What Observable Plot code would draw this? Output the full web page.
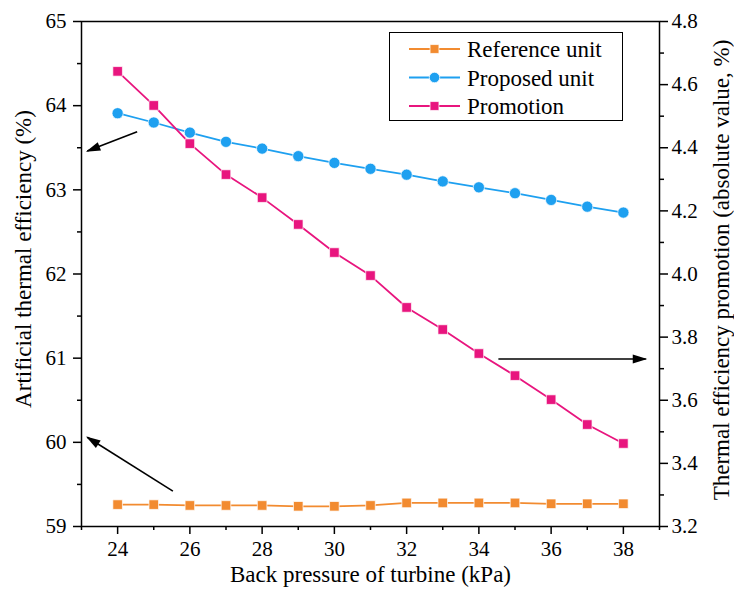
<!DOCTYPE html>
<html><head><meta charset="utf-8">
<script src="https://cdn.jsdelivr.net/npm/d3@7"></script>
<script src="https://cdn.jsdelivr.net/npm/@observablehq/plot@0.6"></script>
<style>
body{margin:0;background:#fff;font-family:"Liberation Serif",serif}
#chart{position:relative;width:734px;height:592px;font-family:"Liberation Serif",serif}
</style>
</head><body><div style="height:0;overflow:hidden;font-family:'Liberation Serif'">&#8203;</div><div id="chart"></div>
<script>
// ---- data ----
const pressure = [24,25,26,27,28,29,30,31,32,33,34,35,36,37,38];
const referenceUnit = [59.26,59.26,59.25,59.25,59.25,59.24,59.24,59.25,59.28,59.28,59.28,59.28,59.27,59.27,59.27];
const proposedUnit = [63.91,63.80,63.68,63.57,63.49,63.40,63.32,63.25,63.18,63.10,63.03,62.96,62.88,62.80,62.73];
const promotion = [4.642,4.534,4.413,4.315,4.242,4.157,4.068,3.995,3.894,3.824,3.748,3.678,3.602,3.523,3.463];
const seriesNames = ["Reference unit","Proposed unit","Promotion"];
const seriesColors = ["#F28B30","#1EA0F0","#E8157E"];
const seriesSymbols = ["square","circle","square"];
const xMajorTicks = [24,26,28,30,32,34,36,38];
const xMinorTicks = [23,25,27,29,31,33,35,37,39];
const leftMajorTicks = [59,60,61,62,63,64,65];
const leftMinorTicks = [59.5,60.5,61.5,62.5,63.5,64.5];
const rightMajorTicks = [3.2,3.4,3.6,3.8,4.0,4.2,4.4,4.6,4.8];
const rightMinorTicks = [3.3,3.5,3.7,3.9,4.1,4.3,4.5,4.7];
const xLabel = "Back pressure of turbine (kPa)";
const leftLabel = "Artificial thermal efficiency (%)";
const rightLabel = "Thermal efficiency promotion (absolute value, %)";
// annotation arrows (data units of x / left axis)
const arrowX1 = [24.54, 25.53, 34.54];
const arrowY1 = [63.69, 59.42, 60.99];
const arrowX2 = [23.16, 23.16, 38.62];
const arrowY2 = [63.46, 60.06, 60.99];

// ---- mapping of right axis onto left scale ----
const leftDomain = [59, 65], rightDomain = [3.2, 4.8];
const toLeft = v => leftDomain[0] + (v - rightDomain[0]) * (leftDomain[1] - leftDomain[0]) / (rightDomain[1] - rightDomain[0]);
const fromLeft = y => rightDomain[0] + (y - leftDomain[0]) * (rightDomain[1] - rightDomain[0]) / (leftDomain[1] - leftDomain[0]);

const rows = pressure.map((p, i) => ({p, ref: referenceUnit[i], prop: proposedUnit[i], promo: toLeft(promotion[i])}));
const arrows = arrowX1.map((x, i) => ({x1: x, y1: arrowY1[i], x2: arrowX2[i], y2: arrowY2[i]}));
const keys = ["ref","prop","promo"];

const FONT = "Liberation Serif";
const FS = 21;   // tick labels
const LS = 23;   // axis titles and legend

function render() {
  const seriesMarks = keys.flatMap((k, i) => [
    Plot.line(rows, {x: "p", y: k, stroke: seriesColors[i], strokeWidth: 1.8}),
    Plot.dot(rows, {x: "p", y: k, symbol: seriesSymbols[i], r: seriesSymbols[i] === "square" ? 5.4 : 5.6,
      fill: seriesColors[i], stroke: "white", strokeWidth: 1, strokeOpacity: 0.7})
  ]);
  const chart = Plot.plot({
    width: 734, height: 592,
    marginLeft: 81, marginRight: 75, marginTop: 21, marginBottom: 66,
    style: {fontFamily: FONT, fontSize: FS + "px"},
    x: {domain: [23, 39]},
    y: {domain: leftDomain},
    marks: [
      Plot.axisX({ticks: xMajorTicks, tickSize: 8, tickPadding: 7, strokeWidth: 1.5, label: null, fontSize: FS, tickFormat: d3.format("d")}),
      Plot.axisX({ticks: xMinorTicks, tickSize: 4, strokeWidth: 1.5, text: null, label: null}),
      Plot.axisY({ticks: leftMajorTicks, anchor: "left", tickSize: 8, tickPadding: 7, strokeWidth: 1.5, label: null, fontSize: FS, tickFormat: d3.format("d")}),
      Plot.axisY({ticks: leftMinorTicks, anchor: "left", tickSize: 4, strokeWidth: 1.5, text: null, label: null}),
      Plot.axisY({ticks: rightMajorTicks.map(toLeft), anchor: "right", tickSize: 8, tickPadding: 4, strokeWidth: 1.5, label: null,
        tickFormat: y => d3.format(".1f")(fromLeft(y)), fontSize: FS}),
      Plot.axisY({ticks: rightMinorTicks.map(toLeft), anchor: "right", tickSize: 4, strokeWidth: 1.5, text: null, label: null}),
      Plot.frame({stroke: "#000", strokeWidth: 1.5}),
      ...seriesMarks,
      Plot.link(arrows, {x1: "x1", y1: "y1", x2: "x2", y2: "y2", stroke: "#000", strokeWidth: 1.6, markerEnd: "arrow"}),
      Plot.text([xLabel], {frameAnchor: "bottom", dy: 55, fontSize: LS, fill: "#000", textAnchor: "middle"}),
      Plot.text([leftLabel], {frameAnchor: "left", dx: -58, dy: -15, rotate: -90, fontSize: LS, fill: "#000", textAnchor: "middle"}),
      Plot.text([rightLabel], {frameAnchor: "right", dx: 62, dy: -4, rotate: -90, fontSize: LS, fill: "#000", textAnchor: "middle"})
    ]
  });

  // filled arrowheads
  d3.select(chart).selectAll("marker").each(function() {
    const m = d3.select(this);
    m.attr("viewBox", "-14 -6 16 12").attr("markerWidth", 16).attr("markerHeight", 12)
     .attr("markerUnits", "userSpaceOnUse").attr("fill", "#000").attr("stroke", "none");
    m.selectAll("path").attr("d", "M-13,-4.5L1.5,0L-13,4.5Z").attr("fill", "#000").attr("stroke", "none");
  });

  // legend inside the plot
  const lg = d3.select(chart).append("g");
  lg.append("rect").attr("x", 389.5).attr("y", 32.5).attr("width", 233).attr("height", 88)
    .attr("fill", "#fff").attr("stroke", "#000").attr("stroke-width", 1);
  seriesNames.forEach((name, i) => {
    const cy = 49 + i * 28.5;
    lg.append("line").attr("x1", 409).attr("x2", 460).attr("y1", cy).attr("y2", cy)
      .attr("stroke", seriesColors[i]).attr("stroke-width", 1.8);
    const sym = d3.symbol(seriesSymbols[i] === "square" ? d3.symbolSquare : d3.symbolCircle,
      Math.PI * Math.pow(seriesSymbols[i] === "square" ? 5.0 : 5.2, 2));
    lg.append("path").attr("d", sym()).attr("transform", `translate(434.5,${cy})`)
      .attr("fill", seriesColors[i]).attr("stroke", "white").attr("stroke-width", 1).attr("stroke-opacity", 0.7);
    lg.append("text").attr("x", 467).attr("y", cy).attr("dy", "0.35em").attr("text-anchor", "start")
      .attr("fill", "#000").attr("font-size", LS).text(name);
  });

  chart.querySelectorAll("text").forEach(t => {
    t.setAttribute("font-family", FONT);
    t.style.fontFamily = "'Liberation Serif', serif";
  });
  const host = document.getElementById("chart");
  host.replaceChildren(chart);
}

render();
if (document.fonts && document.fonts.load) {
  document.fonts.load(LS + "px 'Liberation Serif'").then(render).catch(() => {});
}
</script>
</body></html>
